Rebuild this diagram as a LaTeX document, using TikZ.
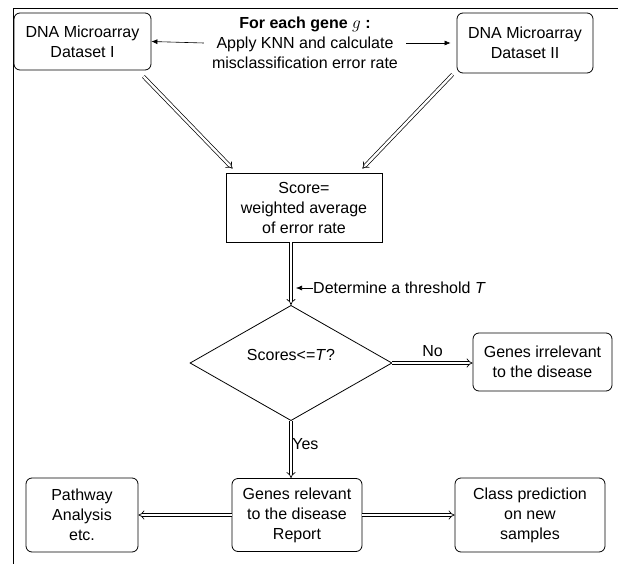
\documentclass[tikz,border=0pt]{standalone}
\usepackage{fontspec}
\setmainfont{Liberation Sans}
\usetikzlibrary{calc, positioning, shapes.geometric, arrows.meta}
\tikzset{
  box/.style={draw, rounded corners=6pt, align=center, inner sep=0pt, line width=0.8pt},
  sqbox/.style={draw, align=center, inner sep=0pt, line width=0.8pt},
  decision/.style={draw, diamond, align=center, inner sep=0pt, line width=0.8pt},
  dbl/.style={double, double distance=2.4pt, line width=0.7pt, -{Implies}},
  arr/.style={line width=0.6pt, -{Latex[length=6pt,width=5pt]}},
}
\begin{document}
\begin{tikzpicture}[x=1pt, y=-1pt, font=\fontsize{16}{20}\selectfont]
        \useasboundingbox (0,0) rectangle (618,564);
        % frame
        \draw[line width=0.8pt] (618,8) -- (13,8) -- (13,564);
        % top row
        \node[box, minimum width=137pt, minimum height=57pt] (dataI) at (82.5,41.5) {DNA Microarray\\Dataset I};
        \node[box, minimum width=136pt, minimum height=60pt] (dataII) at (525,43) {DNA Microarray\\Dataset II};
        \node[align=center, inner sep=8pt] (task) at (305,43) {\textbf{For each gene $g$ :}\\Apply KNN and calculate\\misclassification error rate};
        \draw[arr] (task.west) -- (dataI.east);
        \draw[arr, shorten >=6pt] (task.east) -- (dataII.west);
        % score
        \node[sqbox, minimum width=156pt, minimum height=69pt] (score) at (304,207.5) {Score=\\weighted average\\of error rate};
        \draw[dbl] ([xshift=-8pt,yshift=-6pt]dataI.south east) -- ([xshift=7pt,yshift=4pt]score.north west);
        \draw[dbl] ([xshift=-4pt,yshift=-1pt]dataII.south west) -- ([xshift=-20pt,yshift=4pt]score.north east);
        % decision
        \node[decision, minimum width=202pt, minimum height=74pt, text depth=16pt] (dec) at (291,363) {Scores<=\textit{T}?};
        \draw[dbl] (score.south -| dec.north) -- (dec.north);
        \node[anchor=west, inner sep=0pt] (thr) at (313,288) {Determine a threshold \textit{T}};
        \draw[arr, shorten >=5pt] (thr.west) -- (thr.west -| dec.north);
        % outcomes
        \node[box, minimum width=139pt, minimum height=58pt] (irr) at (542.5,362) {Genes irrelevant\\to the disease};
        \draw[dbl] (dec.east) -- node[above=6pt, inner sep=0pt] {No} (dec.east -| irr.west);
        \node[box, minimum width=130pt, minimum height=73pt] (report) at (297,515) {Genes relevant\\to the disease\\Report};
        \draw[dbl] (dec.south) -- node[right=1pt, pos=0.4, inner sep=0pt] {Yes} (dec.south |- report.north);
        \node[box, minimum width=112pt, minimum height=74pt] (pathway) at (82,515) {Pathway\\Analysis\\etc.};
        \node[box, minimum width=150pt, minimum height=74pt] (classpred) at (530,515) {Class prediction\\on new\\samples};
        \draw[dbl] (report.west) -- (pathway.east);
        \draw[dbl] (report.east) -- (classpred.west);
\end{tikzpicture}
\end{document}
